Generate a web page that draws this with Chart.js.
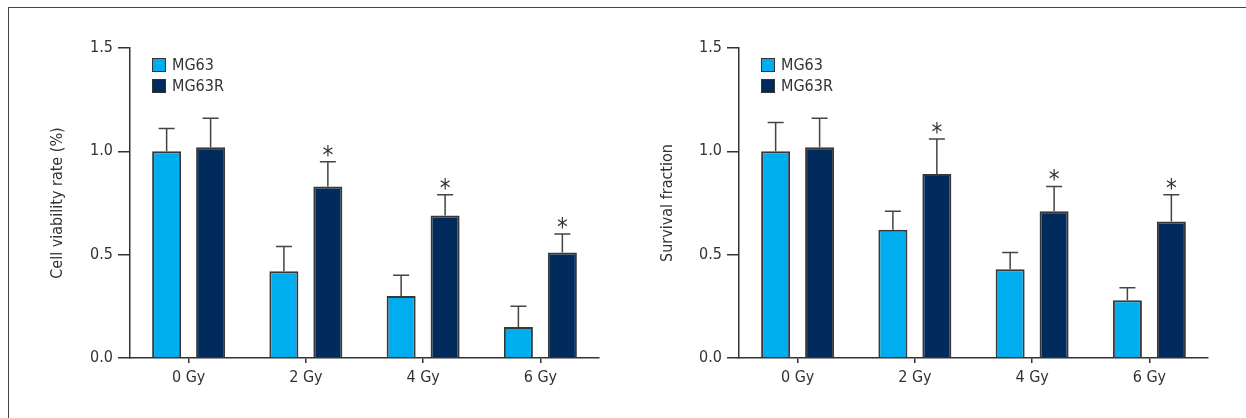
<!DOCTYPE html>
<html>
<head>
<meta charset="utf-8">
<script src="https://cdn.jsdelivr.net/npm/chart.js@4"></script>
<style>
body{margin:0;background:#fff;width:1246px;height:418px;overflow:hidden;position:relative}
#frame{position:absolute;left:8px;top:7px;right:0;bottom:0;border-top:1px solid #444;border-left:1px solid #444}
#box1{position:absolute;left:0;top:0;width:620px;height:418px}
#box2{position:absolute;left:620px;top:0;width:626px;height:418px}
</style>
</head>
<body>
<div id="frame"></div>
<div id="box1"><canvas id="chart1"></canvas></div>
<div id="box2"><canvas id="chart2"></canvas></div>
<script>
let categories=["0 Gy","2 Gy","4 Gy","6 Gy"]
let seriesNames=["MG63","MG63R"]
let yTicks=[0,0.5,1.0,1.5]

let viabilityMG63=[1.00,0.42,0.30,0.15]
let viabilityMG63Sd=[0.11,0.12,0.10,0.10]
let viabilityMG63R=[1.02,0.83,0.69,0.51]
let viabilityMG63RSd=[0.14,0.12,0.10,0.09]

let survivalMG63=[1.00,0.62,0.43,0.28]
let survivalMG63Sd=[0.14,0.09,0.08,0.06]
let survivalMG63R=[1.02,0.89,0.71,0.66]
let survivalMG63RSd=[0.14,0.17,0.12,0.13]

let significant=[false,true,true,true]

let font="'Liberation Sans Narrow','DejaVu Sans Condensed',sans-serif"
let textColor="#333"
let lineColor="#333"
let colors=["#00aeef","#002b5c"]

let errorBars={
    id:"errorBars",
    afterDatasetsDraw(chart,args,opts){
        let ctx=chart.ctx
        let y=chart.scales.y
        ctx.save()
        chart.data.datasets.forEach((ds,i)=>{
            let meta=chart.getDatasetMeta(i)
            meta.data.forEach((bar,j)=>{
                let top=y.getPixelForValue(ds.data[j]+ds.sd[j])
                ctx.strokeStyle="#444"
                ctx.lineWidth=1.5
                ctx.beginPath()
                ctx.moveTo(bar.x,bar.y)
                ctx.lineTo(bar.x,top)
                ctx.moveTo(bar.x-8,top)
                ctx.lineTo(bar.x+8,top)
                ctx.stroke()
                if(ds.stars && ds.stars[j]){
                    ctx.font="24px "+font
                    ctx.fillStyle=textColor
                    ctx.textAlign="center"
                    ctx.textBaseline="alphabetic"
                    let m=ctx.measureText("*")
                    ctx.fillText("*",bar.x,top-5-m.actualBoundingBoxDescent)
                }
            })
        })
        ctx.restore()
    }
}

let innerLegend={
    id:"innerLegend",
    afterDraw(chart){
        let ctx=chart.ctx
        let a=chart.chartArea
        ctx.save()
        ctx.font="16px "+font
        ctx.textBaseline="middle"
        ctx.textAlign="left"
        chart.data.datasets.forEach((ds,i)=>{
            let x=a.left+22
            let y=a.top+10+i*21
            ctx.fillStyle=ds.backgroundColor
            ctx.fillRect(x,y,14,14)
            ctx.strokeStyle="#333"
            ctx.lineWidth=1
            ctx.strokeRect(x+0.5,y+0.5,13,13)
            ctx.fillStyle=textColor
            ctx.fillText(ds.label,x+20,y+8)
        })
        ctx.restore()
    }
}

let drawChart=(canvasId,title,values,sds,padLeft,yWidth,padRight)=>{
    return new Chart(document.querySelector(canvasId),{
        type:"bar",
        data:{
            labels:categories,
            datasets:values.map((v,i)=>({
                label:seriesNames[i],
                data:v,
                sd:sds[i],
                stars:i===1?significant:null,
                backgroundColor:colors[i],
                borderColor:"#383838",
                borderWidth:2,
                categoryPercentage:0.75,
                barPercentage:0.66
            }))
        },
        options:{
            responsive:true,
            maintainAspectRatio:false,
            animation:false,
            layout:{padding:{left:padLeft,right:padRight,top:48,bottom:0}},
            plugins:{legend:{display:false},tooltip:{enabled:false}},
            scales:{
                x:{
                    grid:{drawOnChartArea:false,drawTicks:true,tickLength:5,offset:false,color:lineColor,lineWidth:1.5},
                    border:{display:true,color:lineColor,width:1.5},
                    ticks:{color:textColor,font:{family:font,size:16},padding:5},
                    afterFit:s=>{s.height=60}
                },
                y:{
                    min:0,max:1.5,
                    afterBuildTicks:s=>{s.ticks=yTicks.map(v=>({value:v}))},
                    grid:{drawOnChartArea:false,drawTicks:true,tickLength:12,color:lineColor,lineWidth:1.5},
                    border:{display:true,color:lineColor,width:1.5},
                    ticks:{color:textColor,font:{family:font,size:16},padding:5,callback:v=>v.toFixed(1)},
                    title:{display:true,text:title,color:textColor,font:{family:font,size:16},padding:{top:0,bottom:0}},
                    afterFit:s=>{s.width=yWidth}
                }
            }
        },
        plugins:[errorBars,innerLegend]
    })
}

drawChart("#chart1","Cell viability rate (%)",[viabilityMG63,viabilityMG63R],[viabilityMG63Sd,viabilityMG63RSd],48,82,21)
drawChart("#chart2","Survival fraction",[survivalMG63,survivalMG63R],[survivalMG63Sd,survivalMG63RSd],38,81,38)
</script>
</body>
</html>
